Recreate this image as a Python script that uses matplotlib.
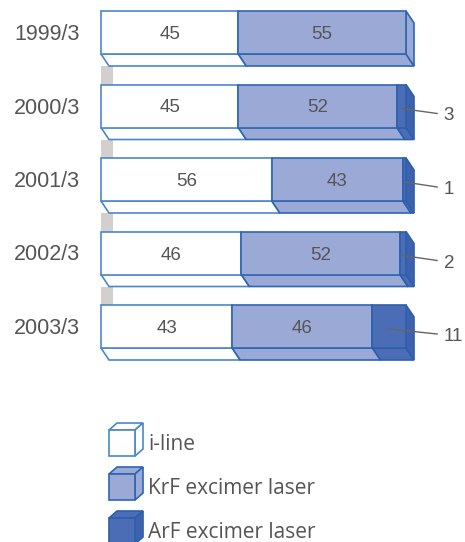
import numpy as np
import matplotlib
matplotlib.use("Agg")
import matplotlib.pyplot as plt
from matplotlib.patches import Polygon, Rectangle

# data: share (%) of steppers by light source
periods = ["1999/3", "2000/3", "2001/3", "2002/3", "2003/3"]
iline = [45, 45, 56, 46, 43]
krf = [55, 52, 43, 52, 46]
arf = [0, 3, 1, 2, 11]
series_names = ["i-line", "KrF excimer laser", "ArF excimer laser"]

fills = ["#ffffff", "#9ba9d6", "#4a6db6"]
side_fills = ["#ffffff", "#9ba9d6", "#3f62ad"]
edges = ["#4a86cc", "#2c66b2", "#2c5fae"]
text_col = "#555555"

W, H = 465, 542
fig = plt.figure(figsize=(W / 100, H / 100), dpi=100)
ax = fig.add_axes([0, 0, 1, 1])
ppx = 3.05      # pixels per percent
ppy = 73.5      # pixels per bar step
ax.set_xlim(-101 / ppx, (W - 101) / ppx)
ax.set_ylim((H - 32.5) / ppy, -32.5 / ppy)
ax.axis("off")

h = 43 / ppy          # front face height
dx, dy = 8 / ppx, 12 / ppy   # depth offset (down-right)
ty = 2 / ppy          # small downward nudge for text

values = np.array([iline, krf, arf], dtype=float)
ypos = np.arange(len(periods))

# grey wall between bars
for i in ypos[:-1]:
    ax.add_patch(Rectangle((0, i + h / 2 + dy), 12 / ppx, 1 - h - dy,
                           facecolor="#d3cfcf", edgecolor="none", zorder=0))

for i, y in enumerate(ypos):
    top, bot = y - h / 2, y + h / 2
    left = 0.0
    nz = [k for k in range(3) if values[k, i] > 0]
    for k in nz:
        v = values[k, i]
        right = left + v
        # bottom face
        ax.add_patch(Polygon([(left, bot), (right, bot), (right + dx, bot + dy),
                              (left + dx, bot + dy)], closed=True,
                             facecolor=fills[k], edgecolor=edges[k], lw=1.2, zorder=2))
        # front face
        ax.add_patch(Rectangle((left, top), v, h, facecolor=fills[k],
                               edgecolor=edges[k], lw=1.2, zorder=3))
        if k == nz[-1]:
            ax.add_patch(Polygon([(right, top), (right + dx, top + dy),
                                  (right + dx, bot + dy), (right, bot)], closed=True,
                                 facecolor=side_fills[k], edgecolor=edges[k], lw=1.2, zorder=2))
        if k < 2:
            ax.text(left + v / 2, y + ty, f"{int(v)}", ha="center", va="center",
                    fontsize=13.5, color=text_col, family="Liberation Sans", zorder=5)
        else:
            cx = left + v / 2
            ax.plot([cx, 110.2], [y + 2.5 / ppy, y + 7.5 / ppy], color="#666666",
                    lw=1.0, zorder=5)
            ax.text(112.3, y + 8 / ppy + ty, f"{int(v)}", ha="left", va="center",
                    fontsize=13.5, color=text_col, family="Liberation Sans", zorder=5)
        left = right
    ax.text(-7, y + ty, periods[i], ha="right", va="center", fontsize=15.5,
            color=text_col, family="Liberation Sans")

# legend with small cubes, in pixel coordinates
lax = fig.add_axes([0, 0, 1, 1])
lax.set_xlim(0, W)
lax.set_ylim(H, 0)
lax.axis("off")
lax.patch.set_alpha(0)
s, ddx, ddy = 26, 8, -7
for k, name in enumerate(series_names):
    x0, y0 = 109, 430 + k * 44
    lax.add_patch(Polygon([(x0, y0), (x0 + ddx, y0 + ddy), (x0 + s + ddx, y0 + ddy),
                           (x0 + s, y0)], closed=True, facecolor=fills[k],
                          edgecolor=edges[k], lw=1.2))
    lax.add_patch(Polygon([(x0 + s, y0), (x0 + s + ddx, y0 + ddy),
                           (x0 + s + ddx, y0 + s + ddy), (x0 + s, y0 + s)], closed=True,
                          facecolor=side_fills[k], edgecolor=edges[k], lw=1.2))
    lax.add_patch(Rectangle((x0, y0), s, s, facecolor=fills[k],
                            edgecolor=edges[k], lw=1.2))
    lax.text(148, y0 + 14, name, ha="left", va="center", fontsize=15,
             color=text_col, family="Open Sans")

fig.savefig("out.png", dpi=100)
